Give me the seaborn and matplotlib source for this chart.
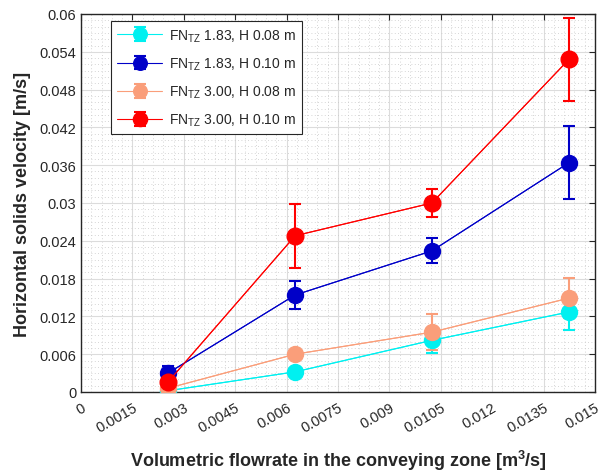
import matplotlib
matplotlib.use("Agg")
import matplotlib.pyplot as plt
import seaborn as sns
import numpy as np
import pandas as pd
from matplotlib.ticker import MultipleLocator, FixedLocator, FixedFormatter

sns.set_style("white")
plt.rcParams['font.family'] = ['Liberation Sans', 'DejaVu Sans']
plt.rcParams['mathtext.fontset'] = 'custom'
plt.rcParams['mathtext.rm'] = 'Liberation Sans'
plt.rcParams['mathtext.bf'] = 'Liberation Sans:bold'

# Data
flow = [0.00254, 0.00625, 0.01024, 0.01424]
labels = [r'FN$_{\mathregular{TZ}}$ 1.83, H 0.08 m',
          r'FN$_{\mathregular{TZ}}$ 1.83, H 0.10 m',
          r'FN$_{\mathregular{TZ}}$ 3.00, H 0.08 m',
          r'FN$_{\mathregular{TZ}}$ 3.00, H 0.10 m']
v_183_008 = [0.0002, 0.0032, 0.0082, 0.0127]
e_183_008 = [0.0003, 0.0003, 0.0020, 0.0028]
v_183_010 = [0.0030, 0.0154, 0.0224, 0.0364]
e_183_010 = [0.0011, 0.0022, 0.0020, 0.0058]
v_300_008 = [0.0006, 0.0060, 0.0095, 0.0149]
e_300_008 = [0.0004, 0.0004, 0.0029, 0.0032]
v_300_010 = [0.0016, 0.0248, 0.0300, 0.0528]
e_300_010 = [0.0008, 0.0051, 0.0022, 0.0066]

series = [v_183_008, v_183_010, v_300_008, v_300_010]
errors = [e_183_008, e_183_010, e_300_008, e_300_010]
colors = ['#00F0F0', '#0000C8', '#FA9E7A', '#FF0000']
msizes = [11.5, 11.5, 11.5, 12]

xticks = [0, 0.0015, 0.003, 0.0045, 0.006, 0.0075, 0.009, 0.0105, 0.012, 0.0135, 0.015]
xticklabels = ['0', '0.0015', '0.003', '0.0045', '0.006', '0.0075', '0.009', '0.0105', '0.012', '0.0135', '0.015']
yticks = [0, 0.006, 0.012, 0.018, 0.024, 0.03, 0.036, 0.042, 0.048, 0.054, 0.06]
yticklabels = ['0', '0.006', '0.012', '0.018', '0.024', '0.03', '0.036', '0.042', '0.048', '0.054', '0.06']

rows = []
for lab, vals, errs in zip(labels, series, errors):
    for x, v, e in zip(flow, vals, errs):
        rows.append({'flow': x, 'vel': v, 'err': e, 'series': lab})
df = pd.DataFrame(rows)

fig = plt.figure(figsize=(6.02, 4.77), dpi=100)
ax = fig.add_axes([81/602, 1 - 393/477, (595-81)/602, (393-15)/477])

handles = []
for lab, col, ms in zip(labels, colors, msizes):
    sub = df[df['series'] == lab]
    sns.lineplot(data=sub, x='flow', y='vel', ax=ax, color=col, lw=0.8,
                 legend=False, sort=False, zorder=2)
    h = ax.errorbar(sub['flow'], sub['vel'], yerr=sub['err'], fmt='-o', color=col,
                    lw=0.8, ms=ms, mec=col, mfc=col, elinewidth=1.5, capsize=4,
                    capthick=1.5, label=lab, zorder=3)
    handles.append(h)

ax.set_xlim(0, 0.015)
ax.set_ylim(0, 0.06)
ax.xaxis.set_major_locator(FixedLocator(xticks))
ax.xaxis.set_major_formatter(FixedFormatter(xticklabels))
ax.yaxis.set_major_locator(FixedLocator(yticks))
ax.yaxis.set_major_formatter(FixedFormatter(yticklabels))
ax.xaxis.set_minor_locator(MultipleLocator(0.0003))
ax.yaxis.set_minor_locator(MultipleLocator(0.001))
ax.grid(True, which='major', color='#DCDCDC', lw=0.8)
ax.grid(True, which='minor', color='#C8C8C8', lw=0.6, ls=(0, (1, 3)))
ax.set_axisbelow(True)
for s in ax.spines.values():
    s.set_color('#262626')
    s.set_linewidth(1.0)
ax.tick_params(axis='both', which='major', direction='in', length=4, labelsize=10.5,
               colors='#262626', right=True, top=True)
ax.tick_params(axis='x', which='major', pad=6)
ax.tick_params(axis='both', which='minor', length=0)
for t in ax.get_xticklabels():
    t.set_rotation(30)
    t.set_ha('right')
    t.set_va('top')
    t.set_rotation_mode('anchor')

ax.set_xlabel(r'Volumetric flowrate in the conveying zone [m$^{\mathbf{3}}$/s]',
              fontsize=13, fontweight='bold', color='#262626', labelpad=9)
ax.set_ylabel('Horizontal solids velocity [m/s]', fontsize=13, fontweight='bold',
              color='#262626', labelpad=6)

leg = ax.legend(handles=handles, labels=labels, loc='upper left',
                bbox_to_anchor=(0.045, 1.0), fontsize=10, frameon=True,
                fancybox=False, edgecolor='#262626', framealpha=1,
                handlelength=3.2, borderpad=0.45, labelspacing=0.85,
                handletextpad=0.5, markerscale=0.85)
leg.get_frame().set_linewidth(0.8)

fig.savefig('out.png', dpi=100)
